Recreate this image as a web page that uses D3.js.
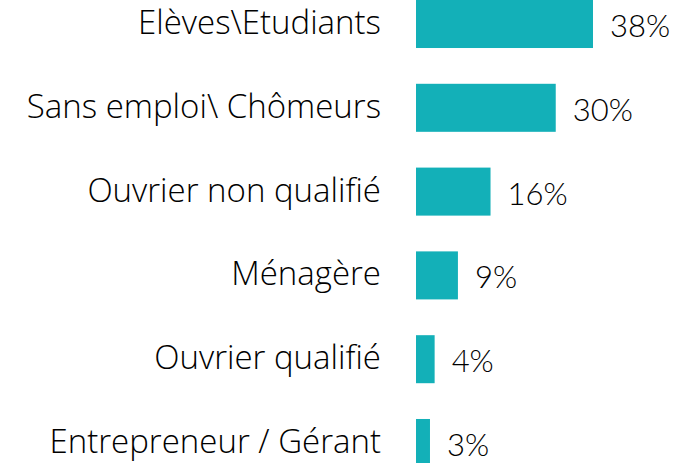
<!DOCTYPE html>
<html>
<head>
    <meta charset="utf-8">
    <style>
        body { margin: 0; background: white; }
        svg { display: block; }
        .cat { font-family: 'Open Sans', sans-serif; font-weight: 300; fill: #000; }
        .val { font-family: Lato, sans-serif; font-weight: 300; fill: #000; }
    </style>
</head>
<body>
    <svg width="698" height="463"></svg>
<script src="https://d3js.org/d3.v7.min.js"></script>
<script>
    let categories = ["Elèves\\Etudiants", "Sans emploi\\ Chômeurs", "Ouvrier non qualifié",
                      "Ménagère", "Ouvrier qualifié", "Entrepreneur / Gérant"]
    let values = [38, 30, 16, 9, 4, 3]

    let svg = d3.select("svg")
    let left = 416

    let x = d3.scaleLinear()
        .domain([0, 38])
        .range([left, left + 177])

    let y = d3.scaleBand()
        .domain(categories)
        .range([0, 467])
        .paddingInner(0.427)
        .paddingOuter(0)

    let rows = categories.map((c, i) => ({cat: c, val: values[i]}))

    svg.append("g")
        .selectAll("rect")
        .data(rows)
        .join("rect")
        .attr("x", x(0))
        .attr("y", d => y(d.cat))
        .attr("width", d => x(d.val) - x(0))
        .attr("height", y.bandwidth())
        .attr("fill", "#13b0b8")

    svg.append("g")
        .selectAll("text")
        .data(rows)
        .join("text")
        .attr("class", "cat")
        .attr("x", 381)
        .attr("y", d => y(d.cat) + y.bandwidth() / 2 + 10)
        .attr("text-anchor", "end")
        .attr("font-size", 33)
        .text(d => d.cat)

    svg.append("g")
        .selectAll("text")
        .data(rows)
        .join("text")
        .attr("class", "val")
        .attr("x", d => x(d.val) + 17)
        .attr("y", d => y(d.cat) + y.bandwidth() / 2 + 13)
        .attr("font-size", 31)
        .text(d => d.val + "%")
</script>
</body>
</html>
